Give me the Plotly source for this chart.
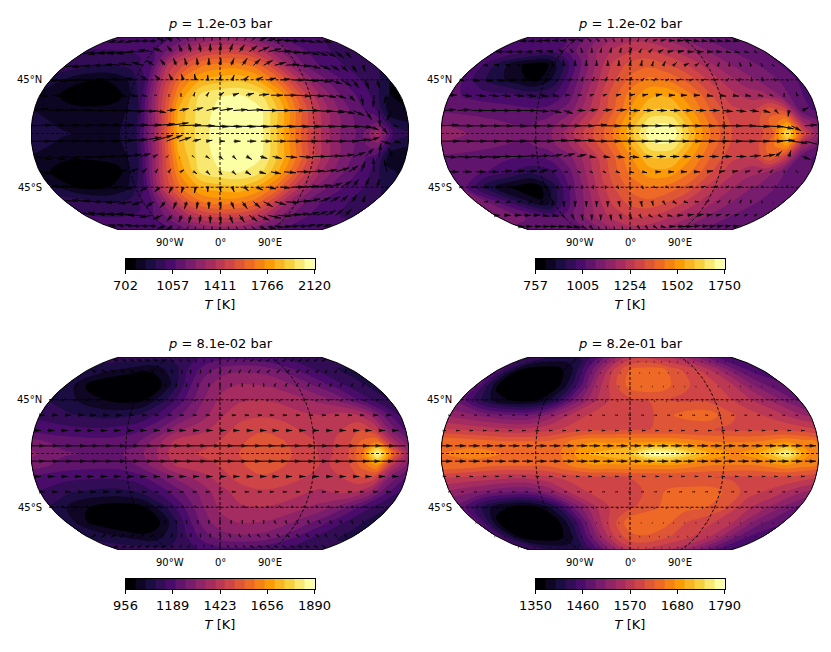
import numpy as np
import plotly.graph_objects as go

# Temperature grid: rows north to south, columns west to east
LON_T = [-180, -150, -120, -100, -80, -60, -40, -20, 0, 20, 40, 60, 80, 100, 120, 135, 150, 165, 180]
LAT_T = [90, 72, 58, 45, 32, 20, 10, 0, -10, -20, -32, -45, -58, -72, -90]

T1 = [
    [1010, 1010, 1020, 1040, 1080, 1130, 1180, 1220, 1240, 1240, 1220, 1180, 1130, 1080, 1050, 1030, 1020, 1010, 1010],
    [1000, 1000, 1010, 1030, 1100, 1220, 1350, 1430, 1460, 1460, 1430, 1340, 1220, 1130, 1060, 1030, 1000, 990, 1000],
    [960, 950, 940, 970, 1060, 1400, 1540, 1660, 1700, 1700, 1640, 1490, 1290, 1140, 1060, 1020, 990, 980, 960],
    [900, 790, 780, 840, 1000, 1400, 1680, 1820, 1860, 1880, 1810, 1650, 1420, 1220, 1110, 1050, 1000, 960, 850],
    [830, 750, 730, 760, 950, 1400, 1760, 1980, 2040, 2050, 1990, 1800, 1530, 1300, 1150, 1080, 1000, 870, 800],
    [850, 800, 790, 800, 910, 1380, 1830, 2000, 2070, 2090, 2050, 1850, 1580, 1340, 1180, 1100, 1020, 800, 770],
    [880, 830, 810, 820, 910, 1340, 1850, 2000, 2090, 2110, 2060, 1840, 1570, 1340, 1190, 1120, 1130, 880, 850],
    [920, 860, 830, 830, 920, 1350, 1850, 2000, 2090, 2110, 2060, 1830, 1560, 1330, 1180, 1130, 1340, 1000, 940],
    [880, 830, 810, 820, 910, 1340, 1850, 2000, 2090, 2110, 2060, 1840, 1570, 1340, 1190, 1120, 1200, 900, 860],
    [840, 790, 790, 800, 900, 1350, 1810, 2000, 2070, 2090, 2050, 1850, 1590, 1350, 1190, 1110, 1040, 800, 780],
    [800, 730, 730, 760, 940, 1400, 1760, 1980, 2040, 2050, 1990, 1800, 1530, 1310, 1170, 1090, 1000, 880, 840],
    [880, 760, 770, 830, 1010, 1420, 1690, 1830, 1860, 1880, 1810, 1650, 1420, 1230, 1120, 1060, 1010, 960, 880],
    [960, 950, 930, 970, 1070, 1320, 1550, 1670, 1710, 1700, 1640, 1490, 1290, 1150, 1070, 1030, 1000, 980, 960],
    [1010, 1000, 1010, 1030, 1110, 1230, 1360, 1440, 1470, 1460, 1430, 1340, 1220, 1130, 1070, 1040, 1010, 1000, 1000],
    [1010, 1010, 1020, 1040, 1080, 1130, 1180, 1220, 1240, 1240, 1220, 1180, 1130, 1080, 1050, 1030, 1020, 1010, 1010],
]
T2 = [
    [1020, 1020, 1020, 1030, 1060, 1100, 1140, 1180, 1200, 1200, 1180, 1160, 1130, 1100, 1080, 1060, 1040, 1030, 1020],
    [1000, 1000, 1000, 1000, 1050, 1110, 1190, 1240, 1270, 1280, 1260, 1220, 1180, 1130, 1090, 1070, 1060, 1040, 1020],
    [1000, 880, 790, 780, 900, 1050, 1180, 1290, 1350, 1370, 1340, 1300, 1240, 1170, 1120, 1090, 1070, 1040, 1010],
    [1020, 900, 830, 790, 880, 1040, 1180, 1310, 1400, 1450, 1430, 1370, 1290, 1210, 1150, 1120, 1090, 1050, 1010],
    [1030, 1000, 980, 950, 950, 1050, 1200, 1340, 1460, 1530, 1530, 1450, 1340, 1250, 1200, 1190, 1120, 1040, 1000],
    [1060, 1050, 1040, 1030, 1040, 1090, 1220, 1350, 1490, 1590, 1590, 1490, 1370, 1290, 1280, 1360, 1300, 1040, 1010],
    [1110, 1090, 1070, 1060, 1080, 1150, 1270, 1390, 1540, 1680, 1680, 1530, 1400, 1310, 1310, 1400, 1480, 1180, 1080],
    [1170, 1110, 1090, 1080, 1100, 1190, 1310, 1410, 1570, 1740, 1740, 1560, 1410, 1320, 1300, 1370, 1670, 1330, 1120],
    [1110, 1090, 1070, 1060, 1090, 1160, 1280, 1390, 1530, 1680, 1680, 1530, 1400, 1310, 1310, 1420, 1500, 1180, 1070],
    [1060, 1050, 1030, 1020, 1030, 1100, 1220, 1350, 1480, 1590, 1590, 1490, 1370, 1290, 1280, 1380, 1280, 1050, 1010],
    [1050, 1030, 970, 930, 950, 1060, 1210, 1340, 1450, 1520, 1520, 1440, 1340, 1250, 1190, 1180, 1100, 1020, 1020],
    [1060, 880, 790, 770, 900, 1060, 1200, 1320, 1400, 1440, 1420, 1370, 1280, 1200, 1150, 1110, 1080, 1050, 1040],
    [1130, 1000, 870, 820, 950, 1090, 1200, 1290, 1350, 1370, 1340, 1290, 1230, 1170, 1120, 1090, 1070, 1050, 1070],
    [1110, 1080, 1040, 1020, 1060, 1130, 1200, 1250, 1280, 1280, 1260, 1220, 1180, 1130, 1090, 1070, 1060, 1050, 1070],
    [1040, 1040, 1040, 1040, 1060, 1100, 1140, 1180, 1200, 1200, 1180, 1160, 1130, 1100, 1080, 1060, 1050, 1040, 1040],
]
T3 = [
    [1130, 1130, 1130, 1130, 1130, 1140, 1150, 1170, 1180, 1180, 1180, 1170, 1160, 1150, 1140, 1130, 1120, 1120, 1130],
    [1080, 1060, 1030, 1010, 1040, 1090, 1170, 1230, 1270, 1290, 1290, 1280, 1250, 1210, 1170, 1140, 1120, 1100, 1100],
    [1090, 980, 950, 945, 950, 1040, 1170, 1270, 1330, 1350, 1350, 1340, 1310, 1270, 1220, 1180, 1140, 1110, 1090],
    [1100, 1050, 1000, 985, 1000, 1090, 1190, 1290, 1360, 1390, 1400, 1390, 1370, 1340, 1300, 1250, 1190, 1140, 1100],
    [1140, 1110, 1090, 1090, 1110, 1170, 1250, 1320, 1390, 1430, 1440, 1430, 1410, 1400, 1420, 1410, 1350, 1230, 1150],
    [1180, 1170, 1160, 1170, 1190, 1250, 1340, 1380, 1420, 1470, 1490, 1480, 1440, 1420, 1450, 1490, 1440, 1290, 1190],
    [1270, 1230, 1220, 1220, 1240, 1330, 1420, 1430, 1450, 1490, 1520, 1500, 1470, 1430, 1470, 1550, 1590, 1380, 1270],
    [1310, 1260, 1240, 1240, 1270, 1350, 1440, 1450, 1470, 1500, 1530, 1510, 1480, 1430, 1480, 1590, 1880, 1560, 1330],
    [1280, 1230, 1220, 1220, 1250, 1330, 1410, 1430, 1450, 1490, 1520, 1500, 1470, 1440, 1470, 1560, 1650, 1400, 1280],
    [1190, 1170, 1160, 1160, 1180, 1240, 1320, 1370, 1420, 1470, 1490, 1480, 1450, 1430, 1450, 1490, 1470, 1290, 1200],
    [1150, 1110, 1090, 1090, 1110, 1170, 1240, 1310, 1380, 1420, 1440, 1430, 1410, 1390, 1410, 1400, 1340, 1220, 1150],
    [1100, 1020, 980, 975, 1000, 1090, 1190, 1290, 1360, 1390, 1400, 1390, 1370, 1340, 1300, 1250, 1190, 1140, 1100],
    [1090, 990, 950, 945, 960, 1050, 1170, 1270, 1330, 1350, 1350, 1340, 1310, 1270, 1220, 1180, 1140, 1110, 1080],
    [1090, 1070, 1040, 1020, 1050, 1100, 1170, 1230, 1270, 1290, 1290, 1280, 1250, 1210, 1170, 1140, 1120, 1100, 1090],
    [1130, 1130, 1130, 1130, 1130, 1140, 1150, 1170, 1180, 1180, 1180, 1170, 1160, 1150, 1140, 1130, 1120, 1120, 1130],
]
T4 = [
    [1440, 1430, 1420, 1420, 1430, 1460, 1500, 1540, 1570, 1580, 1570, 1560, 1550, 1530, 1510, 1490, 1470, 1450, 1440],
    [1460, 1370, 1355, 1360, 1390, 1460, 1530, 1590, 1630, 1640, 1640, 1615, 1595, 1575, 1540, 1510, 1480, 1460, 1450],
    [1480, 1355, 1352, 1355, 1375, 1450, 1540, 1595, 1640, 1650, 1640, 1610, 1600, 1585, 1560, 1530, 1500, 1480, 1470],
    [1480, 1400, 1360, 1365, 1410, 1490, 1550, 1585, 1600, 1605, 1605, 1600, 1600, 1590, 1570, 1550, 1530, 1505, 1480],
    [1530, 1510, 1490, 1490, 1520, 1560, 1585, 1590, 1595, 1600, 1625, 1640, 1640, 1610, 1590, 1580, 1565, 1545, 1530],
    [1585, 1575, 1565, 1565, 1575, 1590, 1600, 1600, 1605, 1605, 1605, 1605, 1605, 1600, 1600, 1600, 1600, 1595, 1585],
    [1650, 1640, 1630, 1630, 1630, 1650, 1670, 1670, 1670, 1670, 1670, 1660, 1650, 1650, 1650, 1660, 1670, 1660, 1650],
    [1650, 1660, 1650, 1640, 1630, 1660, 1700, 1710, 1725, 1785, 1780, 1730, 1690, 1670, 1690, 1730, 1775, 1690, 1650],
    [1650, 1640, 1630, 1630, 1630, 1650, 1670, 1670, 1670, 1670, 1670, 1660, 1650, 1650, 1650, 1660, 1670, 1660, 1650],
    [1585, 1575, 1565, 1565, 1575, 1590, 1600, 1600, 1605, 1605, 1605, 1605, 1605, 1600, 1600, 1600, 1600, 1595, 1585],
    [1530, 1510, 1490, 1490, 1520, 1560, 1585, 1590, 1595, 1610, 1635, 1640, 1640, 1620, 1590, 1580, 1565, 1545, 1530],
    [1480, 1400, 1360, 1365, 1410, 1490, 1550, 1585, 1600, 1620, 1635, 1635, 1630, 1610, 1570, 1550, 1530, 1505, 1480],
    [1480, 1355, 1352, 1355, 1375, 1450, 1540, 1595, 1645, 1650, 1640, 1610, 1595, 1580, 1560, 1530, 1500, 1480, 1470],
    [1460, 1370, 1355, 1360, 1390, 1460, 1530, 1585, 1620, 1625, 1615, 1600, 1585, 1570, 1540, 1510, 1480, 1460, 1450],
    [1440, 1430, 1420, 1420, 1430, 1460, 1500, 1540, 1570, 1580, 1570, 1560, 1550, 1530, 1510, 1490, 1470, 1450, 1440],
]

# Wind grid, in arbitrary wind units, rows north to south
LON_Q = [-180, -167, -154, -141, -129, -116, -103, -90, -77, -64, -51, -39, -26, -13,
         0, 13, 26, 39, 51, 64, 77, 90, 103, 116, 129, 141, 154, 167]
LAT_Q = [83.2, 70.4, 57.6, 44.8, 32, 19.2, 6.4, -6.4, -19.2, -32, -44.8, -57.6, -70.4, -83.2]

U1 = [
    [-8, -8, -8, -8, -8, -8, -8, -7, -6, -5, -3, -2, -1, 0, 1, 2, 3, 4, 5, 7, 8, 8, 8, 8, 8, 8, 8, 8],
    [-15, -15, -16, -16, -16, -16, -16, -14, -9, -5, -3, -2, -1, 0, 1, 3, 5, 8, 11, 13, 13, 13, 12, 12, 11, 10, 8, 6],
    [-13, -15, -16, -16, -16, -15, -13, -11, -8, -5, -3, -2, -1, 0, 1, 3, 5, 7, 9, 11, 13, 13, 12, 11, 9, 7, 5, 2],
    [-7, -12, -15, -15, -15, -14, -12, -10, -7, -5, -3, -2, -1, 0, 1, 2, 4, 6, 8, 10, 12, 14, 14, 13, 10, 6, 4, 2],
    [8, 10, 11, 12, 12, 11, 10, 8, 4, 1, 0, 0, 1, 2, 4, 6, 8, 10, 12, 13, 14, 14, 13, 10, 6, 2, -1, -3],
    [14, 15, 16, 17, 18, 18, 18, 17, 15, 12, 9, 9, 10, 12, 13, 14, 16, 18, 18, 19, 20, 20, 18, 15, 11, 6, 1, -6],
    [20, 20, 21, 21, 22, 22, 22, 22, 22, 22, 22, 22, 22, 22, 22, 22, 22, 22, 22, 22, 21, 21, 20, 19, 17, 11, 6, 3],
    [20, 20, 20, 20, 21, 21, 22, 22, 22, 20, 16, 12, 8, 6, 5, 7, 9, 11, 13, 15, 17, 18, 18, 17, 15, 12, 10, 6],
    [18, 18, 18, 18, 18, 17, 16, 14, 10, 4, 1, 0, 1, 3, 3, 3, 5, 7, 9, 11, 13, 14, 15, 14, 12, 8, 2, -4],
    [12, 13, 14, 14, 14, 13, 11, 8, 4, 2, 2, 3, 3, 3, 2, 3, 5, 7, 10, 12, 13, 14, 14, 13, 9, 4, -1, -3],
    [-6, -11, -14, -15, -15, -14, -12, -10, -7, -5, -3, -2, -1, 0, 1, 2, 4, 6, 8, 10, 12, 14, 14, 13, 10, 6, 4, 2],
    [-13, -15, -16, -16, -16, -15, -13, -11, -8, -5, -3, -2, -1, 0, 1, 3, 5, 7, 9, 11, 13, 13, 12, 11, 9, 7, 5, 2],
    [-14, -15, -16, -16, -16, -16, -15, -13, -9, -5, -3, -2, -1, 0, 1, 3, 5, 8, 11, 13, 13, 13, 12, 12, 11, 10, 8, 6],
    [-8, -8, -8, -8, -8, -8, -8, -7, -6, -5, -3, -2, -1, 0, 1, 2, 3, 4, 5, 7, 8, 8, 8, 8, 8, 8, 8, 8],
]
V1 = [
    [-2, -2, -2, -2, -1, -1, -1, 2, 3, 4, 5, 6, 7, 7, 7, 7, 6, 5, 4, 3, 2, 1, 0, -1, -1, -2, -2, -2],
    [-3, -3, -3, -2, -2, -2, 0, 2, 4, 6, 7, 8, 8, 8, 8, 8, 7, 6, 5, 3, 1, -1, -2, -3, -4, -5, -6, -6],
    [-2, -2, -2, -1, 0, 1, 2, 3, 5, 6, 7, 7, 7, 7, 7, 7, 7, 6, 5, 3, 1, -1, -3, -4, -5, -6, -7, -6],
    [-2, -1, -1, 0, 0, 1, 1, 2, 4, 5, 6, 6, 6, 5, 5, 5, 4, 3, 2, 1, 0, -1, -2, -4, -6, -8, -9, -8],
    [-1, -1, -1, -1, -1, -1, -1, -1, -1, 0, 1, 2, 3, 3, 3, 2, 2, 1, 0, 0, -1, -1, -2, -3, -6, -10, -12, -8],
    [2, 1, 1, 1, 0, 0, 0, -1, -1, -2, 1, 2, 3, 3, 2, 1, 1, 0, 0, 0, 0, -1, -2, -3, -5, -9, -16, -10],
    [1, 1, 1, 1, 1, 1, 1, 1, 1, 2, 3, 1, 0, -1, -1, -1, -1, -1, -1, -1, -1, -1, -1, -1, -2, -4, -8, -1],
    [0, 0, 0, 0, 0, 0, 1, 2, 4, 6, 6, 4, 2, 1, 0, 0, 0, 0, 0, 0, 0, 0, 0, 0, 2, 4, -3, -2],
    [-3, -3, -2, -1, -1, 0, 1, 2, 3, 2, 1, 0, -1, -2, -3, -3, -3, -2, -2, -1, -1, 0, 1, 2, 4, 8, 13, 8],
    [-2, -2, -1, -1, 0, 1, 2, 3, 3, 3, 3, 2, -2, -3, -3, -3, -3, -2, -2, -1, 0, 1, 2, 4, 6, 10, 14, 12],
    [2, 1, 1, 0, 0, -1, -1, -2, -4, -5, -6, -6, -6, -5, -5, -5, -4, -3, -2, -1, 0, 1, 2, 4, 6, 8, 9, 8],
    [2, 2, 2, 1, 0, -1, -2, -3, -5, -6, -7, -7, -7, -7, -7, -7, -7, -6, -5, -3, -1, 1, 3, 4, 5, 6, 7, 6],
    [3, 3, 3, 2, 2, 2, 0, -2, -4, -6, -7, -8, -8, -8, -8, -8, -7, -6, -5, -3, -1, 1, 2, 3, 4, 5, 6, 6],
    [2, 2, 2, 2, 1, 1, 1, -2, -3, -4, -5, -6, -7, -7, -7, -7, -6, -5, -4, -3, -2, -1, 0, 1, 1, 2, 2, 2],
]
U2 = [
    [-7, -7, -7, -7, -7, -6, -6, -6, -5, -3, -2, -1, -1, 0, 1, 1, 2, 3, 4, 5, 6, 6, 6, 6, 6, 6, 6, 6],
    [-8, -9, -9, -9, -8, -7, -6, -4, -2, -1, 0, 1, 1, 1, 2, 2, 3, 4, 5, 6, 6, 6, 6, 5, 4, 4, 3, 2],
    [-3, -4, -4, -4, -3, -3, -2, -1, -1, 0, 0, 0, 0, 0, 1, 1, 1, 2, 3, 4, 3, 2, 1, 0, -1, -1, -1, -1],
    [4, 7, 8, 8, 8, 8, 7, 5, 2, 1, 1, 1, 2, 2, 2, 2, 2, 2, 3, 3, 3, 3, 2, 1, 0, -1, -1, -1],
    [7, 9, 10, 10, 10, 10, 9, 8, 6, 4, 3, 3, 3, 4, 5, 5, 6, 6, 6, 6, 6, 6, 6, 5, 4, 2, 0, -1],
    [12, 13, 14, 14, 14, 13, 13, 12, 11, 9, 8, 8, 9, 10, 10, 10, 10, 10, 10, 10, 10, 10, 10, 9, 7, 3, -1, 6],
    [17, 18, 18, 18, 18, 18, 18, 18, 18, 18, 18, 18, 18, 18, 18, 18, 18, 18, 18, 18, 18, 18, 18, 18, 18, 16, 10, 12],
    [18, 18, 18, 18, 18, 18, 18, 18, 18, 18, 18, 18, 18, 18, 18, 18, 18, 18, 18, 18, 18, 18, 18, 18, 18, 17, 16, 16],
    [13, 14, 15, 15, 15, 14, 14, 13, 12, 11, 9, 6, 7, 8, 9, 9, 9, 9, 8, 8, 9, 9, 10, 11, 12, 6, 2, 8],
    [9, 9, 10, 10, 11, 11, 10, 8, 4, 2, 2, 2, 2, 3, 4, 4, 5, 5, 6, 6, 6, 5, 5, 4, 3, 2, 0, 1],
    [2, 3, 4, 5, 5, 4, 3, 2, 1, 0, 0, 0, 0, 1, 1, 1, 2, 2, 2, 2, 3, 3, 2, 2, 1, 1, 0, 0],
    [-2, -3, -3, -3, -2, -2, -1, -1, 0, 0, 0, 0, 0, 1, 1, 1, 1, 2, 3, 3, 3, 2, 2, 1, 1, 0, 0, 0],
    [5, 6, 7, 7, 7, 6, 6, 3, 2, 1, 0, 0, 1, 1, 2, 2, 3, 3, 4, 5, 6, 6, 5, 4, 3, 3, 2, 2],
    [6, 6, 7, 7, 7, 7, 7, 6, 4, 3, 1, 1, 1, 1, 1, 2, 2, 3, 4, 6, 7, 7, 7, 7, 6, 6, 6, 6],
]
V2 = [
    [-1, -1, -1, -1, 0, 0, 0, 1, 1, 2, 2, 2, 2, 2, 2, 2, 2, 1, 1, 0, 0, 0, -1, -1, -1, -1, -1, -1],
    [0, 0, 0, 0, 0, 1, 1, 2, 3, 4, 4, 4, 4, 4, 4, 3, 3, 2, 1, 1, 0, 0, 0, 0, -1, -1, -1, -1],
    [0, 0, 1, 1, 1, 2, 3, 4, 5, 5, 5, 5, 5, 5, 5, 5, 4, 4, 3, 2, 2, 2, 3, 3, 3, 3, 2, 1],
    [-1, -1, -1, -1, 0, 0, 0, 1, 1, 2, 3, 3, 3, 3, 3, 2, 2, 1, 1, 1, 1, 1, 2, 2, 3, 3, 2, 1],
    [0, -1, -1, -1, -1, -1, -1, -1, -1, 0, 0, 1, 1, 1, 1, 1, 1, 0, 0, 0, -1, -1, -1, -1, -1, -1, 2, 3],
    [1, 1, 0, 0, 0, 0, 0, -1, -2, -3, 0, 1, 1, 1, 0, 0, 0, 0, 0, 0, 0, -1, -1, -1, -2, -3, -6, 3],
    [1, 0, 0, 0, 0, 0, 0, 0, 0, 0, 0, 1, 0, 0, 0, 0, 0, 0, 0, 0, 0, 0, 0, -1, -1, -3, -5, 1],
    [0, 0, 0, 0, 0, 0, 0, 0, 1, 1, 1, 0, 0, 0, 0, 0, 0, 0, 0, 0, 0, 0, 0, 0, 0, 1, -2, -4],
    [-1, -1, -1, -1, 0, 0, 1, 1, 2, 3, 2, -1, -1, -1, -1, 0, 0, 0, 0, 0, 0, 0, 0, 1, 2, 5, 6, -3],
    [0, 0, 0, 0, 1, 1, 1, 2, 2, 0, -1, -1, -1, -1, -1, -1, 0, 0, 0, 0, 1, 1, 1, 1, 2, 2, -1, -1],
    [1, 0, 0, 0, 0, -1, -1, -2, -2, -3, -2, -2, -2, -2, -2, -2, -1, -1, 0, 1, 1, 1, 1, 1, 1, -1, -1, -1],
    [0, 0, -1, -1, -1, -2, -3, -4, -5, -5, -5, -5, -5, -5, -5, -5, -4, -3, -2, -1, 0, 1, 1, 2, 2, 2, 1, 0],
    [0, 0, 0, 0, 0, -1, -1, -3, -4, -5, -5, -5, -5, -4, -4, -3, -2, -2, -1, 0, 1, 1, 1, 1, 1, 1, 1, 1],
    [0, 0, 0, 0, 0, 0, -1, -1, -2, -3, -4, -4, -4, -4, -4, -3, -3, -2, -1, 0, 0, 0, 1, 1, 1, 1, 1, 1],
]
U3 = [
    [-2, -3, -3, -3, -3, -3, -3, -3, -2, -1, -1, 0, 0, 0, 0, 1, 1, 1, 2, 2, 2, 2, 2, 2, 2, 2, 2, 2],
    [-2, -3, -3, -3, -3, -3, -2, -2, -1, -1, 0, 0, 0, 0, 1, 1, 1, 1, 2, 2, 2, 2, 2, 2, 2, 1, 1, 1],
    [1, 1, 0, 0, 0, 0, 0, 0, 0, 0, 0, 0, 0, 0, 0, 0, 0, 0, 0, 1, 1, 1, 1, 1, 1, 1, 1, 1],
    [3, 3, 3, 3, 3, 3, 3, 3, 2, 1, 1, 1, 1, 1, 1, 1, 1, 1, 1, 1, 1, 1, 1, 1, 1, 1, 1, 2],
    [5, 5, 5, 5, 5, 5, 5, 4, 4, 3, 3, 3, 3, 3, 3, 3, 3, 3, 3, 3, 3, 3, 3, 3, 3, 3, 4, 4],
    [7, 7, 7, 7, 7, 7, 7, 7, 6, 6, 6, 6, 6, 6, 6, 6, 6, 6, 6, 6, 6, 6, 6, 6, 6, 6, 6, 6],
    [14, 14, 14, 14, 14, 14, 14, 14, 14, 14, 14, 14, 14, 14, 14, 14, 14, 14, 14, 14, 14, 14, 14, 14, 14, 14, 14, 14],
    [14, 14, 14, 14, 14, 14, 14, 14, 14, 14, 14, 14, 14, 14, 14, 14, 14, 14, 14, 14, 14, 14, 14, 14, 14, 13, 13, 14],
    [7, 7, 7, 7, 7, 7, 7, 7, 6, 6, 6, 6, 6, 6, 6, 6, 6, 6, 6, 6, 6, 6, 6, 6, 6, 6, 6, 6],
    [5, 5, 5, 5, 5, 5, 5, 4, 4, 3, 3, 3, 3, 3, 3, 3, 3, 3, 3, 3, 3, 3, 3, 3, 3, 3, 4, 4],
    [3, 3, 3, 3, 3, 3, 3, 3, 2, 1, 1, 1, 1, 1, 1, 1, 1, 1, 1, 1, 1, 1, 1, 1, 1, 1, 1, 2],
    [1, 1, 0, 0, 0, 0, 0, 0, 0, 0, 0, 0, 0, 0, 0, 0, 0, 0, 0, 1, 1, 1, 1, 1, 1, 1, 1, 1],
    [-2, -3, -3, -3, -3, -3, -2, -2, -1, -1, 0, 0, 0, 0, 1, 1, 1, 1, 2, 2, 2, 2, 2, 2, 2, 1, 1, 1],
    [-2, -3, -3, -3, -3, -3, -3, -3, -2, -1, -1, 0, 0, 0, 0, 1, 1, 1, 2, 2, 2, 2, 2, 2, 2, 2, 2, 2],
]
V3 = [1, 2, 2, 1, 0, 0, 0, 0, 0, 0, -1, -2, -2, -1]
U4 = [
    [0, 0, 0, 0, 0, 0, 0, 0, 0, 0, 0, 0, 0, 0, 0, 0, 0, 0, 0, 0, 0, 0, 0, 0, 0, 0, 0, 0],
    [0, 0, 0, 0, 0, 0, 0, 0, 0, 0, 0, 0, 0, 0, 0, 0, 0, 0, 0, 0, 0, 0, 0, 0, 0, 0, 0, 0],
    [0, 0, 0, 0, 0, 0, 0, 0, 0, 0, 0, 0, 0, 0, 0, 0, 0, 0, 0, 0, 0, 0, 0, 0, 0, 0, 0, 0],
    [0, 0, 0, 0, 0, 0, 0, 0, 0, 0, 0, 0, 0, 0, 0, 0, 0, 0, 0, 0, 0, 0, 0, 0, 0, 0, 0, 0],
    [1, 1, 1, 1, 1, 1, 1, 1, 1, 1, 1, 1, 1, 1, 1, 1, 1, 1, 1, 1, 1, 1, 1, 1, 1, 1, 1, 1],
    [2, 2, 2, 2, 2, 2, 2, 2, 2, 2, 2, 2, 2, 2, 2, 2, 2, 2, 2, 2, 2, 2, 2, 2, 2, 2, 2, 2],
    [11, 11, 11, 11, 11, 11, 11, 11, 11, 11, 11, 11, 11, 11, 11, 11, 11, 11, 11, 11, 11, 11, 11, 11, 11, 11, 11, 11],
    [11, 11, 11, 11, 11, 11, 11, 11, 11, 11, 11, 11, 11, 11, 11, 11, 11, 11, 11, 11, 11, 11, 11, 11, 11, 11, 11, 11],
    [2, 2, 2, 2, 2, 2, 2, 2, 2, 2, 2, 2, 2, 2, 2, 2, 2, 2, 2, 2, 2, 2, 2, 2, 2, 2, 2, 2],
    [1, 1, 1, 1, 1, 1, 1, 1, 1, 1, 1, 1, 1, 1, 1, 1, 1, 1, 1, 1, 1, 1, 1, 1, 1, 1, 1, 1],
    [0, 0, 0, 0, 0, 0, 0, 0, 0, 0, 0, 0, 0, 0, 0, 0, 0, 0, 0, 0, 0, 0, 0, 0, 0, 0, 0, 0],
    [0, 0, 0, 0, 0, 0, 0, 0, 0, 0, 0, 0, 0, 0, 0, 0, 0, 0, 0, 0, 0, 0, 0, 0, 0, 0, 0, 0],
    [0, 0, 0, 0, 0, 0, 0, 0, 0, 0, 0, 0, 0, 0, 0, 0, 0, 0, 0, 0, 0, 0, 0, 0, 0, 0, 0, 0],
    [0, 0, 0, 0, 0, 0, 0, 0, 0, 0, 0, 0, 0, 0, 0, 0, 0, 0, 0, 0, 0, 0, 0, 0, 0, 0, 0, 0],
]
V4 = [0, 0, 0, 0, 0, 0, 0, 0, 0, 0, 0, 0, 0, 0]

TITLES = ["<i>p</i> = 1.2e-03 bar", "<i>p</i> = 1.2e-02 bar", "<i>p</i> = 8.1e-02 bar", "<i>p</i> = 8.2e-01 bar"]
CBAR_TICKS = [
    [702, 1057, 1411, 1766, 2120],
    [757, 1005, 1254, 1502, 1750],
    [956, 1189, 1423, 1656, 1890],
    [1350, 1460, 1570, 1680, 1790],
]
INFERNO = ["#000004", "#1b0c41", "#4a0c6b", "#781c6d", "#a52c60", "#cf4446", "#ed6925", "#fb9b06", "#f7d13d", "#fcffa4"]
N_BANDS = 19

# the page keeps an 8px margin round the figure, so window pixels are shifted by it
MARGIN = 8
W, H = 815, 636
# map box of each panel in window pixels: left, right, top, bottom
BOXES = [(31, 409, 37, 230), (441, 819, 37, 230), (31, 409, 357, 550), (441, 819, 357, 550)]
CBAR_TOPS = [259, 259, 579, 579]

# Robinson projection table, every 5 degrees of latitude
TAB_LAT = np.arange(0, 95, 5)
TAB_X = [1, .9986, .9954, .99, .9822, .973, .96, .9427, .9216, .8962, .8679, .835, .7986, .7597, .7186, .6732, .6213, .5722, .5322]
TAB_Y = [0, .062, .124, .186, .248, .31, .372, .434, .4958, .5571, .6176, .6769, .7346, .7903, .8435, .8936, .9394, .9761, 1]


def robinson(lon, lat):
    lon, lat = np.asarray(lon, float), np.asarray(lat, float)
    x = np.interp(np.abs(lat), TAB_LAT, TAB_X) * lon / 180
    y = np.sign(lat) * np.interp(np.abs(lat), TAB_LAT, TAB_Y)
    return x, y


def inside(x, y):
    # test a projected point against the map outline
    if abs(y) >= 1:
        return False
    lat = np.interp(abs(y), TAB_Y, TAB_LAT)
    return abs(x) <= np.interp(lat, TAB_LAT, TAB_X)


def px(x):
    return (x - MARGIN) / W


def py(y):
    return 1 - (y - MARGIN) / H


fig = go.Figure()
layout = {}
notes = []
panels = [(T1, U1, V1), (T2, U2, V2), (T3, U3, V3), (T4, U4, V4)]
scale = [[i / (len(INFERNO) - 1), c] for i, c in enumerate(INFERNO)]
dash = dict(color="black", width=0.9, dash="3px,2px")

for k, (temp, u, v) in enumerate(panels):
    n = "" if k == 0 else str(k + 1)
    xa, ya = "x" + n, "y" + n
    left, right, top, bottom = BOXES[k]
    cx = (left + right) / 2
    layout["xaxis" + n] = dict(domain=[px(left), px(right)], range=[-1, 1], visible=False, anchor=ya)
    layout["yaxis" + n] = dict(domain=[py(bottom), py(top)], range=[-1, 1], visible=False, anchor=xa)

    lats = LAT_T[::-1]
    lon2, lat2 = np.meshgrid(LON_T, lats)
    gx, gy = robinson(lon2, lat2)
    cid = "map" + str(k)
    hidden = dict(showgrid=False, showticklabels="none", startline=False, endline=False, minorgridcount=0)
    fig.add_trace(go.Carpet(a=LON_T, b=lats, x=gx.tolist(), y=gy.tolist(), carpet=cid,
                            aaxis=hidden, baxis=hidden, xaxis=xa, yaxis=ya))

    ticks = CBAR_TICKS[k]
    size = (ticks[-1] - ticks[0]) / N_BANDS
    fig.add_trace(go.Contourcarpet(
        a=LON_T, b=lats, z=temp[::-1], carpet=cid, xaxis=xa, yaxis=ya, colorscale=scale, showscale=False,
        autocontour=False,
        contours=dict(start=ticks[0] + size, end=ticks[-1] - size, size=size, coloring="fill", showlines=False),
        line=dict(width=0),
    ))

    # graticule
    gl_lat = np.linspace(-90, 90, 121)
    for lon in (-90, 0, 90):
        mx, my = robinson(np.full_like(gl_lat, lon), gl_lat)
        fig.add_trace(go.Scatter(x=mx, y=my, mode="lines", xaxis=xa, yaxis=ya, hoverinfo="skip", line=dash))
    for lat in (45, 0, -45):
        mx, my = robinson(np.array([-180, 180]), np.full(2, lat))
        fig.add_trace(go.Scatter(x=mx, y=my, mode="lines", xaxis=xa, yaxis=ya, hoverinfo="skip", line=dash))

    # wind arrows, cut at the map edge
    sx, sy = 2 / (right - left), 2 / (bottom - top)
    lx, ly, hx, hy, ang, sz = [], [], [], [], [], []
    for i, lat in enumerate(LAT_Q):
        for j, lon in enumerate(LON_Q):
            du, dv = u[i][j], (v[i][j] if isinstance(v[i], list) else v[i])
            bx, by = robinson(lon, lat)
            bx, by = float(bx), float(by)
            tx, ty = bx + du * sx, by + dv * sy
            if inside(tx, ty):
                hx.append(tx)
                hy.append(ty)
                ang.append(float(np.degrees(np.arctan2(du, dv))))
                sz.append(min(6.5, 2 + 0.8 * np.hypot(du, dv)))
            else:
                for f in (0.75, 0.5, 0.25, 0):
                    tx, ty = bx + f * du * sx, by + f * dv * sy
                    if inside(tx, ty):
                        break
            lx += [bx, tx, None]
            ly += [by, ty, None]
    fig.add_trace(go.Scatter(x=lx, y=ly, mode="lines", xaxis=xa, yaxis=ya, hoverinfo="skip",
                             line=dict(color="black", width=1)))
    fig.add_trace(go.Scatter(x=hx, y=hy, mode="markers", xaxis=xa, yaxis=ya, hoverinfo="skip",
                             marker=dict(symbol="arrow", color="black", size=sz, angle=ang, line=dict(width=0))))

    # map outline
    edge_lat = np.linspace(-90, 90, 181)
    west = robinson(np.full_like(edge_lat, -180), edge_lat)
    east = robinson(np.full_like(edge_lat, 180), edge_lat[::-1])
    ex = np.r_[west[0], east[0], west[0][0]]
    ey = np.r_[west[1], east[1], west[1][0]]
    fig.add_trace(go.Scatter(x=ex, y=ey, mode="lines", xaxis=xa, yaxis=ya, hoverinfo="skip", cliponaxis=False,
                             line=dict(color="black", width=1)))

    # colour bar as its own small axes; outer cells run a little past the axis so no gap shows
    bar = str(k + 5)
    cb_top = CBAR_TOPS[k]
    edges = [ticks[0] + i * size for i in range(N_BANDS + 1)]
    edges[0] -= size * 0.2
    edges[-1] += size * 0.2
    centres = [ticks[0] + (i + 0.5) * size for i in range(N_BANDS)]
    fig.add_trace(go.Heatmap(x=edges, y=[0, 1], z=[centres], colorscale=scale, showscale=False, hoverinfo="skip",
                             zmin=centres[0], zmax=centres[-1], xaxis="x" + bar, yaxis="y" + bar))
    layout["xaxis" + bar] = dict(domain=[px(cx - 94.5), px(cx + 94.5)], range=[ticks[0], ticks[-1]], anchor="y" + bar,
                                 tickmode="array", tickvals=ticks, ticktext=[str(t) for t in ticks],
                                 ticks="outside", ticklen=4, tickwidth=0.8, tickcolor="black", tickfont=dict(size=13),
                                 showline=True, linecolor="black", linewidth=0.8, mirror=True, showgrid=False, zeroline=False,
                                 title=dict(text="<i>T</i> [K]", font=dict(size=13), standoff=8))
    layout["yaxis" + bar] = dict(domain=[py(cb_top + 10), py(cb_top)], range=[0, 1], anchor="x" + bar, showticklabels=False,
                                 ticks="", showline=True, linecolor="black", linewidth=0.8, mirror=True, showgrid=False,
                                 zeroline=False)

    # labels
    notes.append(dict(text=TITLES[k], x=px(cx), y=py(top - 14), xref="paper", yref="paper", xanchor="center",
                      yanchor="middle", showarrow=False, font=dict(size=13)))
    for lat, txt in ((45, "45°N"), (-45, "45°S")):
        ax, ay = robinson(-180, lat)
        notes.append(dict(text=txt, x=float(ax), y=float(ay), xref=xa, yref=ya, xanchor="right", xshift=-7,
                          showarrow=False, font=dict(size=10)))
    for lon, txt in ((-90, "90°W"), (0, "0°"), (90, "90°E")):
        ax, ay = robinson(lon, -90)
        notes.append(dict(text=txt, x=float(ax), y=float(ay), xref=xa, yref=ya, yshift=-12,
                          showarrow=False, font=dict(size=10)))

fig.update_layout(width=W, height=H, margin=dict(l=0, r=0, t=0, b=0, autoexpand=False), paper_bgcolor="white", plot_bgcolor="white",
                  font=dict(family="DejaVu Sans", color="black"), annotations=notes, showlegend=False, **layout)
fig.write_html("out.html")
